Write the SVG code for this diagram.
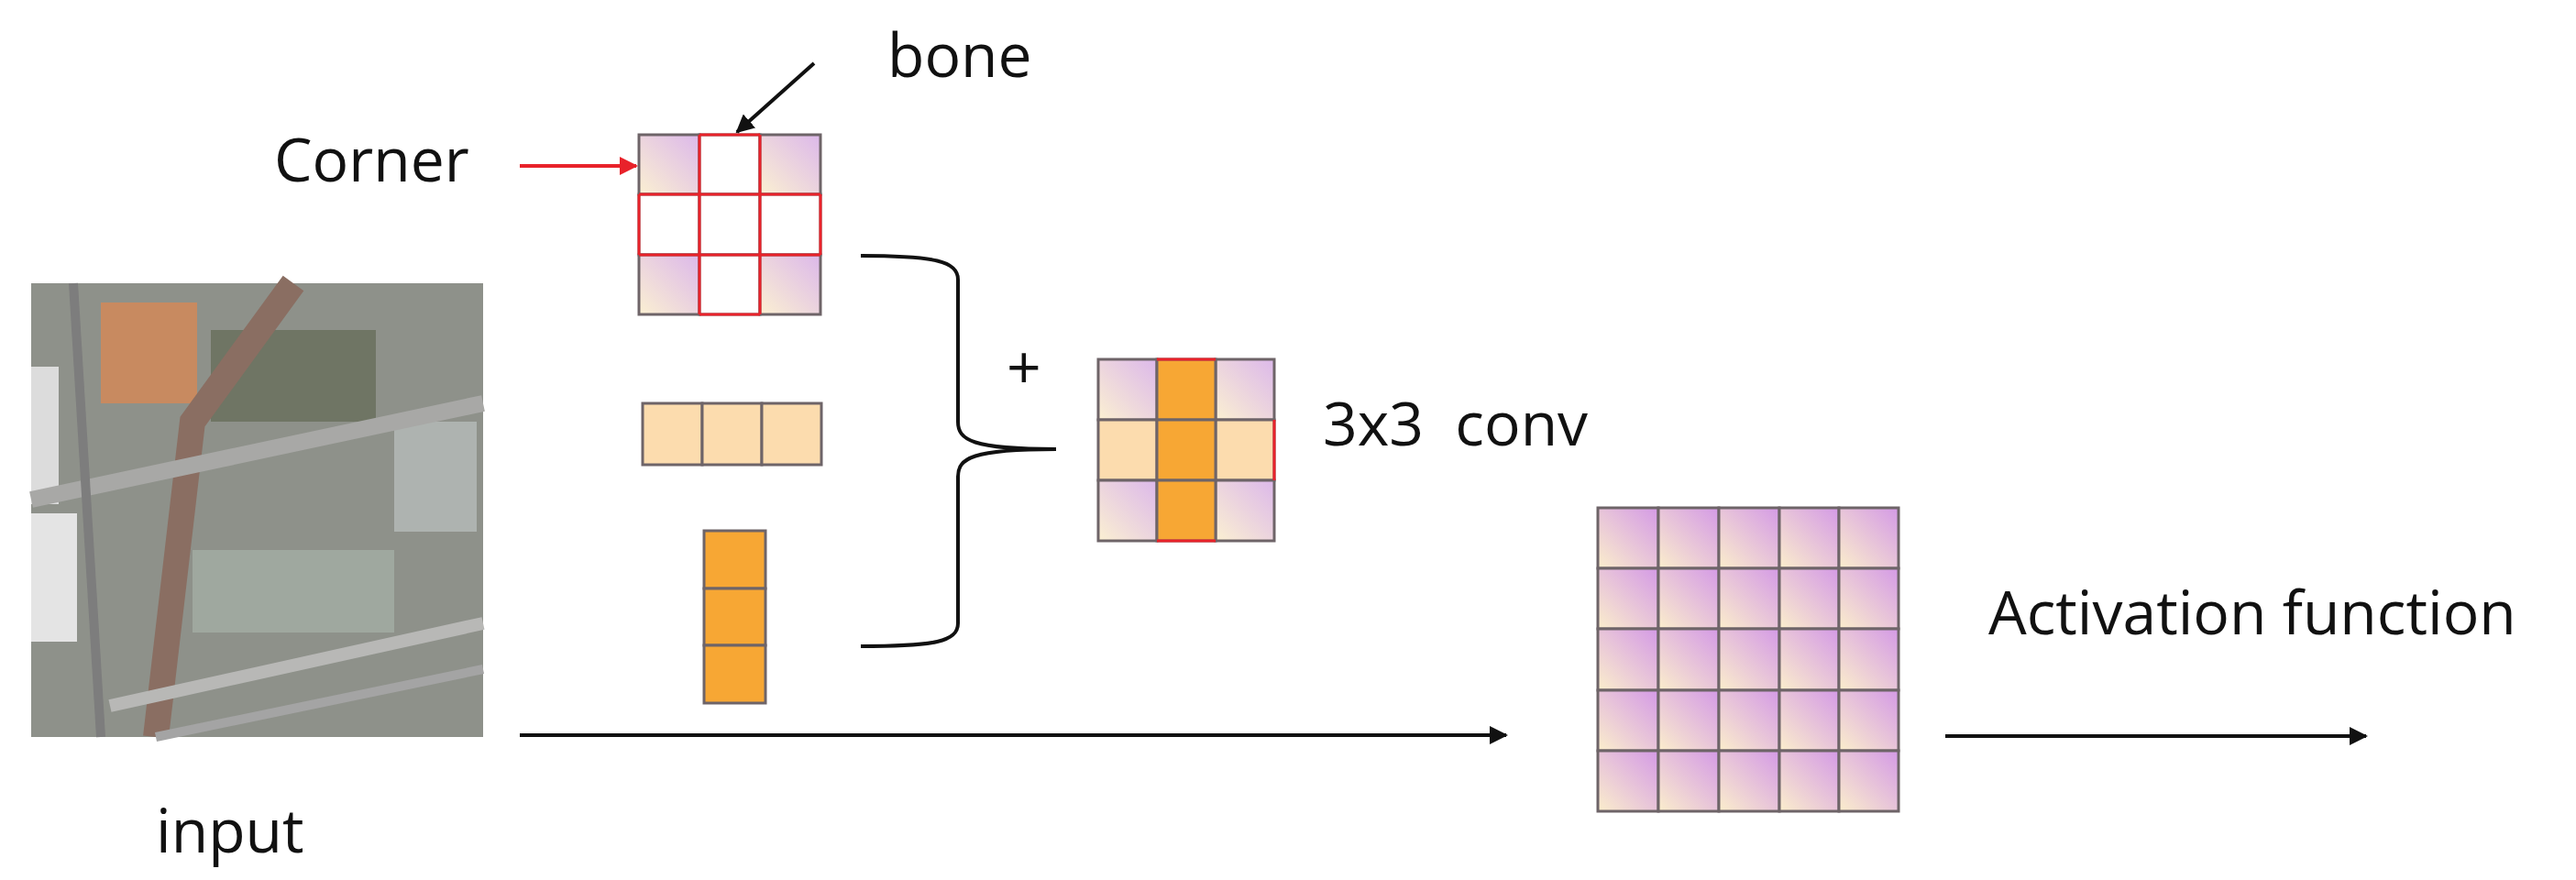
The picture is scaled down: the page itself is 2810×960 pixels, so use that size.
<svg xmlns="http://www.w3.org/2000/svg" width="2810" height="960" viewBox="0 0 2810 960">
<style>
text{font-family:"Open Sans","Liberation Sans",sans-serif;font-size:66px;fill:#111}
.c{fill:url(#g);stroke:#6e6468;stroke-width:3}
.p{fill:url(#g2);stroke:#6e6468;stroke-width:3}
.o{fill:#f7a734;stroke:#6e6468;stroke-width:3}
.l{fill:#fcdcae;stroke:#6e6468;stroke-width:3}
.w{fill:#fff;stroke:#6e6468;stroke-width:3}
.r{stroke:#e8222a;stroke-width:3;fill:none}
.k{stroke:#111;stroke-width:4;fill:none}
</style>
<defs>
<linearGradient id="g" x1="0" y1="1" x2="1" y2="0">
<stop offset="0" stop-color="#fbf0d2"/><stop offset="1" stop-color="#dcb8ea"/>
</linearGradient>
<linearGradient id="g2" x1="0" y1="1" x2="1" y2="0">
<stop offset="0" stop-color="#fbeecc"/><stop offset="1" stop-color="#d49ae6"/>
</linearGradient>
<marker id="ab" viewBox="0 0 10 10" refX="9" refY="5" markerWidth="5" markerHeight="5" orient="auto"><path d="M0,0 L10,5 L0,10 z" fill="#111"/></marker>
<marker id="ar" viewBox="0 0 10 10" refX="9" refY="5" markerWidth="5" markerHeight="5" orient="auto"><path d="M0,0 L10,5 L0,10 z" fill="#e8222a"/></marker>
</defs>
<rect width="2810" height="960" fill="#fff"/>
<g id="input-image">
<rect x="34" y="309" width="493" height="495" fill="#8e918a"/>
<rect x="110" y="330" width="105" height="110" fill="#c88a60"/>
<rect x="34" y="400" width="30" height="150" fill="#dcdcdc"/>
<rect x="34" y="560" width="50" height="140" fill="#e4e4e4"/>
<rect x="430" y="460" width="90" height="120" fill="#aeb3b0"/>
<rect x="210" y="600" width="220" height="90" fill="#9fa89f"/>
<rect x="230" y="360" width="180" height="100" fill="#6f7564"/>
<path d="M320,309 L210,460 L170,804" stroke="#8a6e62" stroke-width="28" fill="none"/>
<path d="M34,545 L527,440" stroke="#a8a8a6" stroke-width="18" fill="none"/>
<path d="M120,770 L527,680" stroke="#b8b8b6" stroke-width="14" fill="none"/>
<path d="M170,804 L527,730" stroke="#a4a4a4" stroke-width="10" fill="none"/>
<path d="M80,309 L110,804" stroke="#7d7d7d" stroke-width="10" fill="none"/>
</g>
<g id="corner-grid">
<rect class="c" x="697" y="147" width="66" height="65"/><rect class="w" x="763" y="147" width="66" height="65"/><rect class="c" x="829" y="147" width="66" height="65"/>
<rect class="w" x="697" y="212" width="66" height="66"/><rect class="w" x="763" y="212" width="66" height="66"/><rect class="w" x="829" y="212" width="66" height="66"/>
<rect class="c" x="697" y="278" width="66" height="65"/><rect class="w" x="763" y="278" width="66" height="65"/><rect class="c" x="829" y="278" width="66" height="65"/>
<path class="r" d="M763,147 V343 M829,147 V343 M697,212 H895 M697,278 H895 M697,212 V278 M895,212 V278 M763,147 H829 M763,343 H829"/>
</g>
<g id="row-kernel">
<rect class="l" x="701" y="440" width="65" height="67"/><rect class="l" x="766" y="440" width="65" height="67"/><rect class="l" x="831" y="440" width="65" height="67"/>
</g>
<g id="col-kernel">
<rect class="o" x="768" y="579" width="67" height="63"/><rect class="o" x="768" y="642" width="67" height="62"/><rect class="o" x="768" y="704" width="67" height="63"/>
</g>
<g id="conv-grid">
<rect class="c" x="1198" y="392" width="64" height="66"/><rect class="c" x="1326" y="392" width="64" height="66"/>
<rect class="l" x="1198" y="458" width="64" height="66"/><rect class="l" x="1326" y="458" width="64" height="66"/>
<rect class="c" x="1198" y="524" width="64" height="66"/><rect class="c" x="1326" y="524" width="64" height="66"/>
<rect class="o" x="1262" y="392" width="64" height="66"/><rect class="o" x="1262" y="458" width="64" height="66"/><rect class="o" x="1262" y="524" width="64" height="66"/>
<path class="r" d="M1262,392 H1326 M1262,590 H1326 M1390,458 V524"/>
</g>
<g id="output-grid">
<rect class="p" x="1743" y="554" width="66" height="66"/><rect class="p" x="1809" y="554" width="66" height="66"/><rect class="p" x="1875" y="554" width="66" height="66"/><rect class="p" x="1941" y="554" width="65" height="66"/><rect class="p" x="2006" y="554" width="65" height="66"/>
<rect class="p" x="1743" y="620" width="66" height="66"/><rect class="p" x="1809" y="620" width="66" height="66"/><rect class="p" x="1875" y="620" width="66" height="66"/><rect class="p" x="1941" y="620" width="65" height="66"/><rect class="p" x="2006" y="620" width="65" height="66"/>
<rect class="p" x="1743" y="686" width="66" height="67"/><rect class="p" x="1809" y="686" width="66" height="67"/><rect class="p" x="1875" y="686" width="66" height="67"/><rect class="p" x="1941" y="686" width="65" height="67"/><rect class="p" x="2006" y="686" width="65" height="67"/>
<rect class="p" x="1743" y="753" width="66" height="66"/><rect class="p" x="1809" y="753" width="66" height="66"/><rect class="p" x="1875" y="753" width="66" height="66"/><rect class="p" x="1941" y="753" width="65" height="66"/><rect class="p" x="2006" y="753" width="65" height="66"/>
<rect class="p" x="1743" y="819" width="66" height="66"/><rect class="p" x="1809" y="819" width="66" height="66"/><rect class="p" x="1875" y="819" width="66" height="66"/><rect class="p" x="1941" y="819" width="65" height="66"/><rect class="p" x="2006" y="819" width="65" height="66"/>
</g>
<g id="labels">
<text x="299" y="198">Corner</text>
<text x="968" y="84">bone</text>
<text x="1098" y="424" font-size="44">+</text>
<text x="1443" y="486" style="white-space:pre">3x3  conv</text>
<text x="2169" y="692">Activation function</text>
<text x="170" y="930">input</text>
</g>
<g id="connectors">
<path d="M567,181 H694" stroke="#e8222a" stroke-width="4" marker-end="url(#ar)"/>
<path class="k" d="M888,69 L804,144" marker-end="url(#ab)"/>
<path class="k" d="M939,279 C1020,279 1045,285 1045,305 V460 C1045,480 1060,490 1152,490 C1060,490 1045,500 1045,520 V680 C1045,700 1020,705 939,705"/>
<path class="k" d="M567,802 H1643" marker-end="url(#ab)"/>
<path class="k" d="M2122,803 H2581" marker-end="url(#ab)"/>
</g>
</svg>
